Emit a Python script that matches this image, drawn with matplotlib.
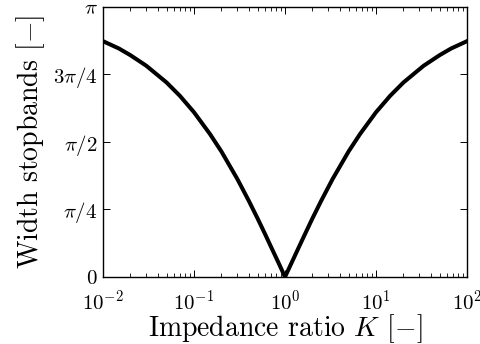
import matplotlib
matplotlib.use('Agg')
import matplotlib.pyplot as plt
import numpy as np

plt.rcParams['mathtext.fontset'] = 'cm'
plt.rcParams['font.family'] = 'serif'
plt.rcParams['font.serif'] = ['cmr10']
plt.rcParams['axes.formatter.use_mathtext'] = True

# impedance ratio K and stopband width (rad)
K = [0.01, 0.015, 0.02, 0.03, 0.05, 0.07, 0.1, 0.15, 0.2, 0.3, 0.4, 0.5, 0.6, 0.7, 0.85, 1.0,
     1.18, 1.43, 1.67, 2.0, 2.5, 3.33, 5.0, 6.67, 10.0, 14.3, 20.0, 33.3, 50.0, 66.7, 100.0]
width = [2.743, 2.657, 2.580, 2.456, 2.262, 2.107, 1.916, 1.662, 1.460, 1.138, 0.886, 0.680, 0.505, 0.353, 0.163, 0.0,
         0.163, 0.353, 0.505, 0.680, 0.886, 1.138, 1.460, 1.662, 1.916, 2.107, 2.262, 2.456, 2.580, 2.657, 2.743]

yticks = [0, np.pi/4, np.pi/2, 3*np.pi/4, np.pi]
ylabels = ['$0$', r'$\pi/4$', r'$\pi/2$', r'$3\pi/4$', r'$\pi$']

fig = plt.figure(figsize=(4.81, 3.44), dpi=100)
ax = fig.add_axes([0.214, 0.195, 0.757, 0.785])
ax.semilogx(K, width, 'k', linewidth=2.9)
ax.set_xlim(1e-2, 1e2)
ax.set_ylim(0, np.pi)
ax.set_yticks(yticks, labels=ylabels)
ax.set_xticks([1e-2, 1e-1, 1e0, 1e1, 1e2])

ax.tick_params(which='both', direction='in', top=True, right=True, labelsize=15)
ax.tick_params(which='major', length=5, width=0.7)
ax.tick_params(which='minor', length=3, width=0.6)
ax.tick_params(axis='x', pad=9)
ax.tick_params(axis='y', pad=4)
for s in ax.spines.values():
    s.set_linewidth(1.0)

ax.set_xlabel(r'Impedance ratio $K$ [$-$]', fontsize=20, labelpad=-1)
ax.set_ylabel(r'Width stopbands [$-$]', fontsize=20, labelpad=4)

fig.savefig('out.png', dpi=100)
